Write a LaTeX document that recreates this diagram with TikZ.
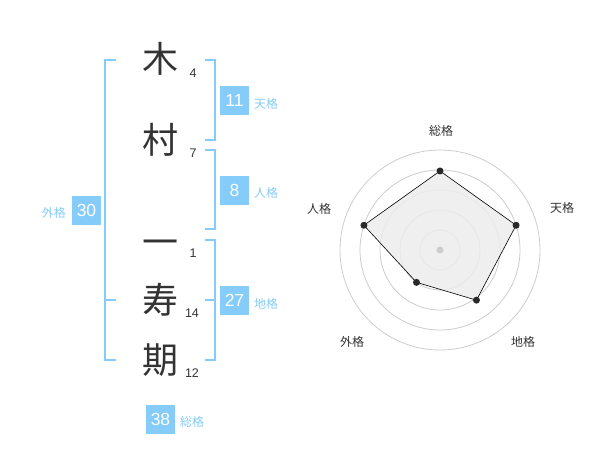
\documentclass[tikz,border=0pt]{standalone}
\usepackage{fontspec}
\usetikzlibrary{calc}
\setmainfont{Liberation Sans}
\newfontfamily\jp{Noto Sans CJK JP}
\definecolor{skyb}{RGB}{133,204,250}
\definecolor{ink}{RGB}{51,51,51}
\definecolor{ring}{RGB}{204,204,204}
\definecolor{area}{RGB}{236,236,236}
\tikzset{
  kanji/.style={font=\jp\fontsize{36}{36}\selectfont, text=ink, inner sep=0pt},
  strokes/.style={font=\fontsize{12.5}{13}\selectfont, text=ink, inner sep=0pt},
  valbox/.style={fill=skyb, text=white, minimum width=29pt, minimum height=29pt, inner sep=0pt, font=\fontsize{17.5}{17.5}\selectfont},
  kaku/.style={font=\jp\fontsize{12}{12}\selectfont, text=skyb, inner sep=0pt},
  brk/.style={draw=skyb, line width=2pt},
  radlab/.style={font=\jp\fontsize{12}{12}\selectfont, text=ink, inner sep=0pt},
  ringline/.style={draw=ring, line width=0.8pt},
  vdot/.style={circle, fill=ink!80!black, minimum size=7pt, inner sep=0pt},
}
\begin{document}
\begin{tikzpicture}[x=1pt, y=-1pt]
\useasboundingbox (0,0) rectangle (600,470);
% characters
\node[kanji] (c1) at (160,59) {木};
\node[kanji] (c2) at (160,140) {村};
\node[kanji] (c3) at (160,248) {一};
\node[kanji] (c4) at (160,300) {寿};
\node[kanji] (c5) at (160,360) {期};
% stroke counts
\node[strokes] (s1) at (193,73) {4};
\node[strokes] (s2) at (193,153) {7};
\node[strokes] (s3) at (193,253) {1};
\node[strokes] (s4) at (192,313) {14};
\node[strokes] (s5) at (192,373) {12};
% brackets
\draw[brk] (116,60) -- (105,60) -- (105,360) -- (116,360);
\draw[brk] (105,300) -- (116,300);
\draw[brk] (205,60) -- (215,60) -- (215,140) -- (205,140);
\draw[brk] (205,150) -- (215,150) -- (215,229) -- (205,229);
\draw[brk] (205,240) -- (215,240) -- (215,360) -- (205,360);
\draw[brk] (205,300) -- (215,300);
% value boxes
\node[valbox] (b1) at (234.5,100.5) {11};
\node[kaku, anchor=west] (k1) at (254,104) {天格};
\node[valbox] (b2) at (234.5,190.5) {8};
\node[kaku, anchor=west] (k2) at (254,193) {人格};
\node[valbox] (b3) at (86.5,210.5) {30};
\node[kaku, anchor=east] (k3) at (66,213) {外格};
\node[valbox] (b4) at (234.5,300.5) {27};
\node[kaku, anchor=west] (k4) at (254,304) {地格};
\node[valbox] (b5) at (160.5,419) {38};
\node[kaku, anchor=west] (k5) at (180,422) {総格};
% radar chart
\coordinate (C) at (440,250);
\foreach \r in {20,40,60,80,100} \draw[ringline] (C) circle (\r pt);
\coordinate (p1) at ($(C)+(90:79pt)$);
\coordinate (p2) at ($(C)+(18:80pt)$);
\coordinate (p3) at ($(C)+(-54:62pt)$);
\coordinate (p4) at ($(C)+(-126:40pt)$);
\coordinate (p5) at ($(C)+(162:80pt)$);
\filldraw[fill=area, fill opacity=0.85, draw=black, line width=0.6pt] (p1) -- (p2) -- (p3) -- (p4) -- (p5) -- cycle;
\node[circle, fill=ring, minimum size=7pt, inner sep=0pt] (ctr) at (C) {};
\foreach \p in {p1,p2,p3,p4,p5} \node[vdot] at (\p) {};
\node[radlab] (r1) at (441,131) {総格};
\node[radlab] (r2) at (562,208) {天格};
\node[radlab] (r3) at (319,209) {人格};
\node[radlab] (r4) at (352,342) {外格};
\node[radlab] (r5) at (523,342) {地格};
\end{tikzpicture}
\end{document}
